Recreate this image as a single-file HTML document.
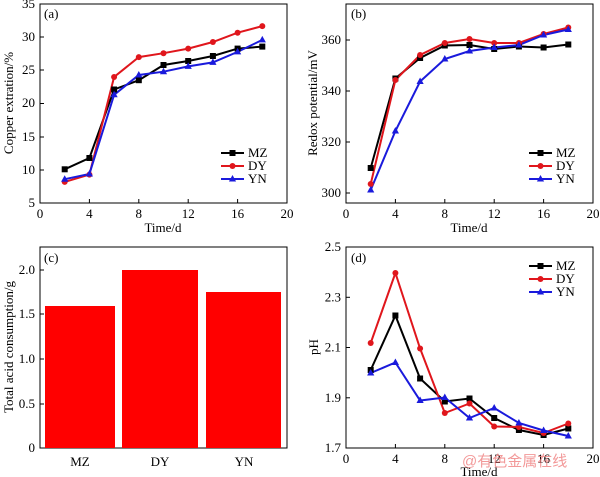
<!DOCTYPE html>
<html><head><meta charset="utf-8"><style>body{margin:0;background:#fff}svg{display:block}text{font-family:"Liberation Serif","Noto Serif CJK SC",serif;font-size:13px;fill:#000}</style></head><body>
<svg width="600" height="477" viewBox="0 0 600 477">
<defs><path id="tri" d="M0,-4 L3.6,2.5 L-3.6,2.5 Z" fill="#1a1adc"/></defs>
<!-- (a) -->
<g>
<rect x="40" y="4" width="247" height="199" fill="none" stroke="#000"/>
<g stroke="#000">
<line x1="89.4" y1="203" x2="89.4" y2="199"/><line x1="138.8" y1="203" x2="138.8" y2="199"/><line x1="188.2" y1="203" x2="188.2" y2="199"/><line x1="237.6" y1="203" x2="237.6" y2="199"/>
<line x1="40" y1="170" x2="44" y2="170"/><line x1="40" y1="137" x2="44" y2="137"/><line x1="40" y1="103.5" x2="44" y2="103.5"/><line x1="40" y1="70" x2="44" y2="70"/><line x1="40" y1="37" x2="44" y2="37"/>
</g>
<g text-anchor="middle"><text x="40" y="218">0</text><text x="89.4" y="218">4</text><text x="138.8" y="218">8</text><text x="188.2" y="218">12</text><text x="237.6" y="218">16</text><text x="287" y="218">20</text><text x="163" y="232">Time/d</text></g>
<g text-anchor="end"><text x="35" y="207">5</text><text x="35" y="174">10</text><text x="35" y="141">15</text><text x="35" y="107">20</text><text x="35" y="74">25</text><text x="35" y="41">30</text><text x="35" y="8">35</text></g>
<text transform="translate(13,103) rotate(-90)" text-anchor="middle">Copper extration/%</text>
<text x="44" y="18">(a)</text>
<polyline fill="none" stroke="#000" stroke-width="2" points="64.7,169.3 89.4,158 114.1,89.5 138.8,80.2 163.5,65 188.2,61 212.9,56 237.6,48.6 262.3,46.6"/>
<polyline fill="none" stroke="#e0161c" stroke-width="2" points="64.7,181.9 89.4,174.6 114.1,77 138.8,57.1 163.5,53.2 188.2,48.6 212.9,42 237.6,32.7 262.3,26.1"/>
<polyline fill="none" stroke="#1a1adc" stroke-width="2" points="64.7,179.2 89.4,174 114.1,94.8 138.8,75 163.5,71.7 188.2,66.4 212.9,62.4 237.6,51.9 262.3,39.9"/>
<g fill="#000"><rect x="61.7" y="166.3" width="6" height="6"/><rect x="86.4" y="155" width="6" height="6"/><rect x="111.1" y="86.5" width="6" height="6"/><rect x="135.8" y="77.2" width="6" height="6"/><rect x="160.5" y="62" width="6" height="6"/><rect x="185.2" y="58" width="6" height="6"/><rect x="209.9" y="53" width="6" height="6"/><rect x="234.6" y="45.6" width="6" height="6"/><rect x="259.3" y="43.6" width="6" height="6"/></g>
<g fill="#e0161c"><circle cx="64.7" cy="181.9" r="3"/><circle cx="89.4" cy="174.6" r="3"/><circle cx="114.1" cy="77" r="3"/><circle cx="138.8" cy="57.1" r="3"/><circle cx="163.5" cy="53.2" r="3"/><circle cx="188.2" cy="48.6" r="3"/><circle cx="212.9" cy="42" r="3"/><circle cx="237.6" cy="32.7" r="3"/><circle cx="262.3" cy="26.1" r="3"/></g>
<g><use href="#tri" x="64.7" y="179.2"/><use href="#tri" x="89.4" y="174"/><use href="#tri" x="114.1" y="94.8"/><use href="#tri" x="138.8" y="75"/><use href="#tri" x="163.5" y="71.7"/><use href="#tri" x="188.2" y="66.4"/><use href="#tri" x="212.9" y="62.4"/><use href="#tri" x="237.6" y="51.9"/><use href="#tri" x="262.3" y="39.9"/></g>
<line x1="221" y1="153" x2="244" y2="153" stroke="#000" stroke-width="2"/><rect x="229.5" y="150" width="6" height="6"/><text x="248" y="157">MZ</text>
<line x1="221" y1="166" x2="244" y2="166" stroke="#e0161c" stroke-width="2"/><circle cx="232.5" cy="166" r="3" fill="#e0161c"/><text x="248" y="170">DY</text>
<line x1="221" y1="179" x2="244" y2="179" stroke="#1a1adc" stroke-width="2"/><use href="#tri" x="232.5" y="179"/><text x="248" y="183">YN</text>
</g>
<!-- (b) -->
<g>
<rect x="346" y="4" width="247" height="199" fill="none" stroke="#000"/>
<g stroke="#000">
<line x1="395.4" y1="203" x2="395.4" y2="199"/><line x1="444.8" y1="203" x2="444.8" y2="199"/><line x1="494.2" y1="203" x2="494.2" y2="199"/><line x1="543.6" y1="203" x2="543.6" y2="199"/>
<line x1="346" y1="193" x2="350" y2="193"/><line x1="346" y1="142" x2="350" y2="142"/><line x1="346" y1="91" x2="350" y2="91"/><line x1="346" y1="40" x2="350" y2="40"/>
</g>
<g text-anchor="middle"><text x="346" y="218">0</text><text x="395.4" y="218">4</text><text x="444.8" y="218">8</text><text x="494.2" y="218">12</text><text x="543.6" y="218">16</text><text x="593" y="218">20</text><text x="469" y="232">Time/d</text></g>
<g text-anchor="end"><text x="341" y="197">300</text><text x="341" y="146">320</text><text x="341" y="95">340</text><text x="341" y="44">360</text></g>
<text transform="translate(317,103) rotate(-90)" text-anchor="middle">Redox potential/mV</text>
<text x="351" y="18">(b)</text>
<polyline fill="none" stroke="#000" stroke-width="2" points="370.7,168 395.4,78.5 420.1,58 444.8,45.5 469.5,45 494.2,49 518.9,46.5 543.6,47.5 568.3,44.5"/>
<polyline fill="none" stroke="#e0161c" stroke-width="2" points="370.7,184 395.4,80 420.1,55 444.8,43 469.5,39 494.2,43 518.9,43 543.6,34 568.3,27.5"/>
<polyline fill="none" stroke="#1a1adc" stroke-width="2" points="370.7,190 395.4,131 420.1,81.5 444.8,59 469.5,51 494.2,47.5 518.9,45 543.6,35 568.3,29.5"/>
<g fill="#000"><rect x="367.7" y="165" width="6" height="6"/><rect x="392.4" y="75.5" width="6" height="6"/><rect x="417.1" y="55" width="6" height="6"/><rect x="441.8" y="42.5" width="6" height="6"/><rect x="466.5" y="42" width="6" height="6"/><rect x="491.2" y="46" width="6" height="6"/><rect x="515.9" y="43.5" width="6" height="6"/><rect x="540.6" y="44.5" width="6" height="6"/><rect x="565.3" y="41.5" width="6" height="6"/></g>
<g fill="#e0161c"><circle cx="370.7" cy="184" r="3"/><circle cx="395.4" cy="80" r="3"/><circle cx="420.1" cy="55" r="3"/><circle cx="444.8" cy="43" r="3"/><circle cx="469.5" cy="39" r="3"/><circle cx="494.2" cy="43" r="3"/><circle cx="518.9" cy="43" r="3"/><circle cx="543.6" cy="34" r="3"/><circle cx="568.3" cy="27.5" r="3"/></g>
<g><use href="#tri" x="370.7" y="190"/><use href="#tri" x="395.4" y="131"/><use href="#tri" x="420.1" y="81.5"/><use href="#tri" x="444.8" y="59"/><use href="#tri" x="469.5" y="51"/><use href="#tri" x="494.2" y="47.5"/><use href="#tri" x="518.9" y="45"/><use href="#tri" x="543.6" y="35"/><use href="#tri" x="568.3" y="29.5"/></g>
<line x1="529" y1="153" x2="552" y2="153" stroke="#000" stroke-width="2"/><rect x="537.5" y="150" width="6" height="6"/><text x="556" y="157">MZ</text>
<line x1="529" y1="166" x2="552" y2="166" stroke="#e0161c" stroke-width="2"/><circle cx="540.5" cy="166" r="3" fill="#e0161c"/><text x="556" y="170">DY</text>
<line x1="529" y1="179" x2="552" y2="179" stroke="#1a1adc" stroke-width="2"/><use href="#tri" x="540.5" y="179"/><text x="556" y="183">YN</text>
</g>
<!-- (c) -->
<g>
<rect x="40" y="247" width="247" height="201" fill="none" stroke="#000"/>
<rect x="45" y="306" width="70" height="142" fill="#ff0000"/>
<rect x="122" y="270" width="76" height="178" fill="#ff0000"/>
<rect x="206" y="292" width="75" height="156" fill="#ff0000"/>
<g stroke="#000"><line x1="40" y1="404" x2="44" y2="404"/><line x1="40" y1="359" x2="44" y2="359"/><line x1="40" y1="314" x2="44" y2="314"/><line x1="40" y1="270" x2="44" y2="270"/></g>
<g text-anchor="end"><text x="35" y="452">0</text><text x="35" y="408">0.5</text><text x="35" y="363">1.0</text><text x="35" y="318">1.5</text><text x="35" y="274">2.0</text></g>
<g text-anchor="middle"><text x="80" y="466">MZ</text><text x="160" y="466">DY</text><text x="244" y="466">YN</text></g>
<text transform="translate(13,347) rotate(-90)" text-anchor="middle">Total acid consumption/g</text>
<text x="44" y="262">(c)</text>
</g>
<!-- (d) -->
<g>
<rect x="346" y="247" width="247" height="201" fill="none" stroke="#000"/>
<g stroke="#000">
<line x1="395.4" y1="448" x2="395.4" y2="444"/><line x1="444.8" y1="448" x2="444.8" y2="444"/><line x1="494.2" y1="448" x2="494.2" y2="444"/><line x1="543.6" y1="448" x2="543.6" y2="444"/>
<line x1="346" y1="397.8" x2="350" y2="397.8"/><line x1="346" y1="347.5" x2="350" y2="347.5"/><line x1="346" y1="297.3" x2="350" y2="297.3"/>
</g>
<g text-anchor="middle"><text x="346" y="463">0</text><text x="395.4" y="463">4</text><text x="444.8" y="463">8</text><text x="494.2" y="463">12</text><text x="543.6" y="463">16</text><text x="593" y="463">20</text><text x="479" y="476">Time/d</text></g>
<g text-anchor="end"><text x="341" y="452">1.7</text><text x="341" y="401.8">1.9</text><text x="341" y="351.5">2.1</text><text x="341" y="301.3">2.3</text><text x="341" y="251">2.5</text></g>
<text transform="translate(318,347) rotate(-90)" text-anchor="middle">pH</text>
<text x="351" y="262">(d)</text>
<polyline fill="none" stroke="#000" stroke-width="2" points="370.7,370 395.4,315.5 420.1,378.5 444.8,401.5 469.5,398.5 494.2,418 518.9,430 543.6,435 568.3,428.5"/>
<polyline fill="none" stroke="#e0161c" stroke-width="2" points="370.7,343 395.4,273 420.1,348.5 444.8,413 469.5,403.5 494.2,426.5 518.9,427 543.6,433 568.3,423.5"/>
<polyline fill="none" stroke="#1a1adc" stroke-width="2" points="370.7,373 395.4,362.5 420.1,400.5 444.8,397.5 469.5,418 494.2,408 518.9,423 543.6,430.5 568.3,436"/>
<g fill="#000"><rect x="367.7" y="367" width="6" height="6"/><rect x="392.4" y="312.5" width="6" height="6"/><rect x="417.1" y="375.5" width="6" height="6"/><rect x="441.8" y="398.5" width="6" height="6"/><rect x="466.5" y="395.5" width="6" height="6"/><rect x="491.2" y="415" width="6" height="6"/><rect x="515.9" y="427" width="6" height="6"/><rect x="540.6" y="432" width="6" height="6"/><rect x="565.3" y="425.5" width="6" height="6"/></g>
<g fill="#e0161c"><circle cx="370.7" cy="343" r="3"/><circle cx="395.4" cy="273" r="3"/><circle cx="420.1" cy="348.5" r="3"/><circle cx="444.8" cy="413" r="3"/><circle cx="469.5" cy="403.5" r="3"/><circle cx="494.2" cy="426.5" r="3"/><circle cx="518.9" cy="427" r="3"/><circle cx="543.6" cy="433" r="3"/><circle cx="568.3" cy="423.5" r="3"/></g>
<g><use href="#tri" x="370.7" y="373"/><use href="#tri" x="395.4" y="362.5"/><use href="#tri" x="420.1" y="400.5"/><use href="#tri" x="444.8" y="397.5"/><use href="#tri" x="469.5" y="418"/><use href="#tri" x="494.2" y="408"/><use href="#tri" x="518.9" y="423"/><use href="#tri" x="543.6" y="430.5"/><use href="#tri" x="568.3" y="436"/></g>
<line x1="529" y1="266" x2="552" y2="266" stroke="#000" stroke-width="2"/><rect x="537.5" y="263" width="6" height="6"/><text x="556" y="270">MZ</text>
<line x1="529" y1="279" x2="552" y2="279" stroke="#e0161c" stroke-width="2"/><circle cx="540.5" cy="279" r="3" fill="#e0161c"/><text x="556" y="283">DY</text>
<line x1="529" y1="292" x2="552" y2="292" stroke="#1a1adc" stroke-width="2"/><use href="#tri" x="540.5" y="292"/><text x="556" y="296">YN</text>
<text x="462" y="466" style="font-family:'Liberation Sans','Noto Sans CJK SC',sans-serif;font-size:15px;fill:#f08080;opacity:0.8">@有色金属在线</text>
</g>
</svg>
</body></html>
